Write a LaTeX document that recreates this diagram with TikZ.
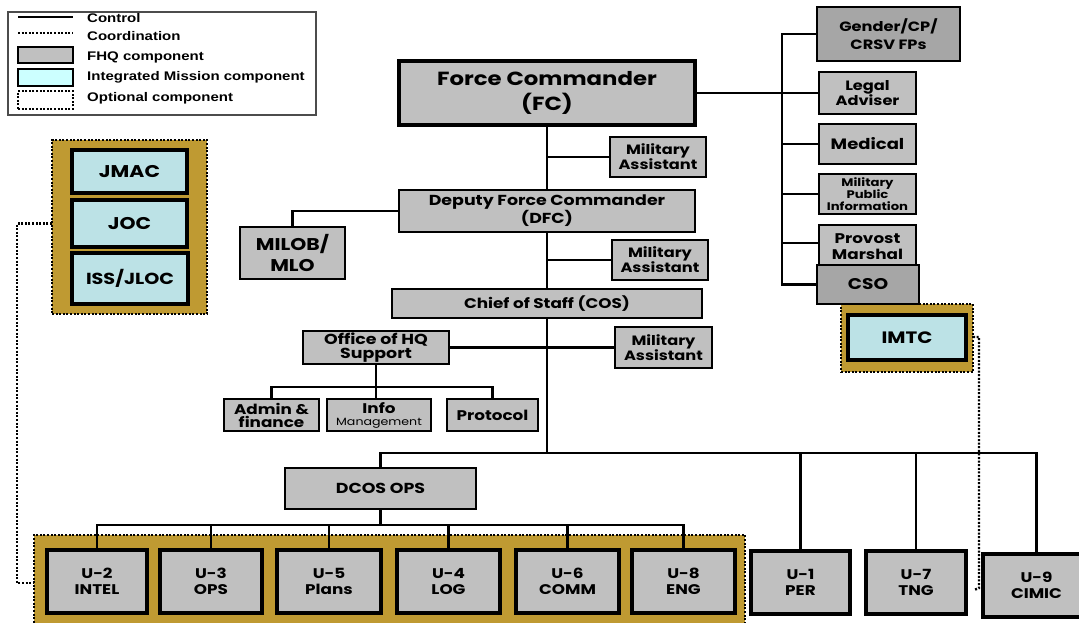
\documentclass[tikz,border=0pt]{standalone}
\usepackage{fontspec}
\newfontfamily\cgfont{Poppins}[FakeStretch=1.2]
\newfontfamily\legfont{Liberation Sans}[FakeStretch=1.2]
\definecolor{fhq}{HTML}{C0C0C0}
\definecolor{fhqdark}{HTML}{A6A6A6}
\definecolor{imc}{HTML}{BCE2E6}
\definecolor{imlegend}{HTML}{CCFFFF}
\definecolor{goldbg}{HTML}{BF9A32}
\tikzset{
  fsz/.style 2 args={font=\cgfont\bfseries\fontsize{#1}{#2}\selectfont},
  box/.style={draw=black, line width=2.6pt, fill=fhq, inner sep=0pt, outer sep=0pt, align=center},
  dbox/.style={box, fill=fhqdark},
  ubox/.style={box, line width=3.2pt, fsz={14}{15.5}},
  ibox/.style={box, fill=imc, line width=3.2pt},
  grp/.style={draw=black, fill=goldbg, line width=2.4pt, dash pattern=on 2pt off 1.6pt, inner sep=0pt, outer sep=0pt},
  ctrl/.style={draw=black, line width=2.2pt},
  coord/.style={draw=black, line width=2.4pt, dash pattern=on 2pt off 1.6pt},
  matext/.style={fsz={13.5}{15}},
  lgtext/.style={anchor=west, inner sep=0pt, font=\legfont\bfseries\fontsize{12.5}{14}\selectfont},
}
\newcommand\bx[7]{\node[#6, minimum width={(#4-#2)*1pt}, minimum height={(#5-#3)*1pt}] (#1) at ({(#2+#4)/2},{(#3+#5)/2}) {#7};}
\begin{document}
\begin{tikzpicture}[x=1pt,y=-1pt]
\useasboundingbox (0,0) rectangle (1079,622);
% legend
\draw[draw=black!70, line width=1.2pt] (8,12) rectangle (316,115);
\coordinate (l1a) at (18,17); \coordinate (l1b) at (73,17);
\draw[ctrl] (l1a) -- (l1b);
\coordinate (l2a) at (18,33); \coordinate (l2b) at (73,33);
\draw[coord] (l2a) -- (l2b);
\bx{lfhq}{18}{47}{73}{63}{box}{}
\bx{lim}{18}{69}{73}{86}{box, fill=imlegend}{}
\bx{lopt}{18}{91}{73}{109}{box, fill=none, line width=2.4pt, dash pattern=on 2pt off 1.6pt}{}
\node[lgtext] (t1) at (87,18) {Control};
\node[lgtext] (t2) at (87,36) {Coordination};
\node[lgtext] (t3) at (87,57) {FHQ component};
\node[lgtext] (t4) at (87,77) {Integrated Mission component};
\node[lgtext] (t5) at (87,98) {Optional component};
% groups
\bx{jgrp}{52}{140}{207}{314}{grp}{}
\bx{igrp}{841}{304}{973}{372}{grp}{}
\bx{ugrp}{34}{535}{745}{640}{grp}{}
% IM boxes
\bx{JMAC}{72}{150}{187}{193}{ibox, fsz={17}{19}}{JMAC}
\bx{JOC}{72}{200}{187}{247}{ibox, fsz={17}{19}}{JOC}
\bx{ISS}{72}{253}{188}{304}{ibox, fsz={16}{19}}{ISS/JLOC}
\bx{IMTC}{848}{315}{966}{360}{ibox, fsz={16.5}{19}}{IMTC}
% command chain
\bx{FC}{399}{61}{695}{125}{box, line width=3.2pt, fsz={19}{25}}{Force Commander\\(FC)}
\bx{MA1}{610}{137}{706}{177}{box, matext}{Military\\Assistant}
\bx{DFC}{399}{190}{695}{232}{box, fsz={14.5}{18}}{Deputy Force Commander\\(DFC)}
\bx{MILOB}{240}{227}{345}{279}{box, fsz={17}{21}}{MILOB/\\MLO}
\bx{MA2}{612}{240}{708}{280}{box, matext}{Military\\Assistant}
\bx{COS}{392}{289}{702}{318}{box, fsz={14}{16}}{Chief of Staff (COS)}
\bx{OHQ}{303}{331}{449}{364}{box, fsz={14.5}{14}}{Office of HQ\\Support}
\bx{MA3}{615}{327}{712}{368}{box, matext}{Military\\Assistant}
\bx{Admin}{224}{399}{319}{431}{box, fsz={14}{13}}{Admin \&\\finance}
\bx{Info}{327}{399}{431}{431}{box, fsz={14}{12}}{Info\\{\fontsize{10.5}{11}\selectfont\mdseries Management}}
\bx{Protocol}{447}{399}{538}{431}{box, fsz={14}{16}}{Protocol}
\bx{DCOS}{285}{468}{476}{509}{box, fsz={14.5}{16}}{DCOS OPS}
% U boxes
\bx{U2}{47}{550}{147}{613}{ubox}{U-2\\INTEL}
\bx{U3}{160}{550}{262}{613}{ubox}{U-3\\OPS}
\bx{U5}{277}{550}{381}{613}{ubox}{U-5\\Plans}
\bx{U4}{397}{550}{500}{613}{ubox}{U-4\\LOG}
\bx{U6}{516}{550}{619}{613}{ubox}{U-6\\COMM}
\bx{U8}{632}{550}{735}{613}{ubox}{U-8\\ENG}
\bx{U1}{751}{551}{850}{614}{ubox}{U-1\\PER}
\bx{U7}{866}{551}{966}{614}{ubox}{U-7\\TNG}
\bx{U9}{983}{554}{1090}{617}{ubox}{U-9\\CIMIC}
% right side
\bx{Gender}{817}{7}{960}{61}{dbox, fsz={13.5}{18}}{Gender/CP/\\CRSV FPs}
\bx{Legal}{819}{72}{916}{114}{box, fsz={13.5}{15.5}}{Legal\\Adviser}
\bx{Medical}{819}{124}{916}{164}{box, fsz={15}{17}}{Medical}
\bx{MPI}{819}{174}{916}{214}{box, fsz={11}{12}}{Military\\Public\\Information}
\bx{Provost}{819}{225}{916}{268}{box, fsz={14}{16}}{Provost\\Marshal}
\bx{CSO}{817}{265}{919}{304}{dbox, fsz={15.5}{17}}{CSO}
% connectors: chain
\draw[ctrl] (FC.south) -- (DFC.north);
\draw[ctrl] (FC.south |- MA1.west) -- (MA1.west);
\draw[ctrl] (DFC.west) -| (MILOB.north);
\draw[ctrl] (DFC.south) -- (COS.north);
\draw[ctrl] (DFC.south |- MA2.west) -- (MA2.west);
\coordinate (bus) at (0,453);
\draw[ctrl] (COS.south) -- (COS.south |- bus);
\draw[ctrl] (OHQ.east) -- (MA3.west);
\draw[ctrl] (OHQ.south) -- (OHQ.south |- Info.north);
\coordinate (sbus) at (0,387);
\draw[ctrl] (Admin.north) |- (Protocol.north |- sbus) -- (Protocol.north);
\draw[ctrl] (DCOS.north) |- (U9.north |- bus) -- (U9.north);
\draw[ctrl] (U1.north) -- (U1.north |- bus);
\draw[ctrl] (U7.north) -- (U7.north |- bus);
\coordinate (ubus) at (0,525);
\draw[ctrl] (DCOS.south) -- (DCOS.south |- ubus);
\draw[ctrl] (U2.north) |- (U8.north |- ubus) -- (U8.north);
\draw[ctrl] (U3.north) -- (U3.north |- ubus);
\draw[ctrl] (U5.north) -- (U5.north |- ubus);
\draw[ctrl] (U4.north) -- (U4.north |- ubus);
\draw[ctrl] (U6.north) -- (U6.north |- ubus);
% right side connectors
\coordinate (rb) at (782,0);
\draw[ctrl] (FC.east) -- (Legal.west);
\draw[ctrl] (Gender.west) -| (rb |- CSO.west) -- (CSO.west);
\draw[ctrl] (rb |- Medical.west) -- (Medical.west);
\draw[ctrl] (rb |- MPI.west) -- (MPI.west);
\draw[ctrl] (rb |- 0,243) -- (Provost.west |- 0,243);
% coordination
\coordinate (jl) at (17,583);
\draw[coord] (jgrp.west |- JOC.west) -| (jl) -- (jl -| ugrp.west);
\coordinate (ir) at (979,588);
\coordinate (ie) at (974,590);
\draw[coord] (igrp.east |- 0,337) -| (ir) -- (ie);
\end{tikzpicture}
\end{document}
